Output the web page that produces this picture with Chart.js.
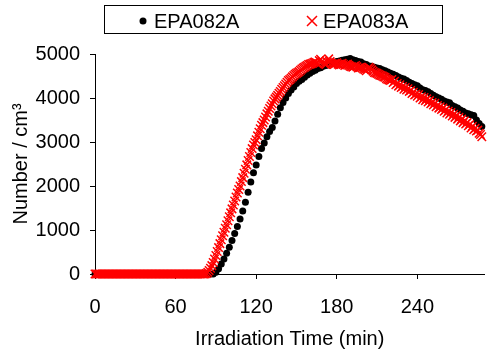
<!DOCTYPE html>
<html>
<head>
<meta charset="utf-8">
<style>
  html, body { margin: 0; padding: 0; background: #fff; }
  canvas { display: block; }
</style>
</head>
<body>
<canvas id="chart" width="492" height="354"></canvas>
<script src="https://cdn.jsdelivr.net/npm/chart.js"></script>
<script>
// EPA082A, sampled every 2 min
var timesA = [0, 2, 4, 6, 8, 10, 12, 14, 16, 18, 20, 22, 24, 26, 28, 30, 32, 34, 36, 38,
	40, 42, 44, 46, 48, 50, 52, 54, 56, 58, 60, 62, 64, 66, 68, 70, 72, 74, 76, 78,
	80, 82, 84, 86, 88, 90, 92, 94, 96, 98, 100, 102, 104, 106, 108, 110, 112, 114, 116, 118,
	120, 122, 124, 126, 128, 130, 132, 134, 136, 138, 140, 142, 144, 146, 148, 150, 152, 154, 156, 158,
	160, 162, 164, 166, 168, 170, 172, 174, 176, 178, 180, 182, 184, 186, 188, 190, 192, 194, 196, 198,
	200, 202, 204, 206, 208, 210, 212, 214, 216, 218, 220, 222, 224, 226, 228, 230, 232, 234, 236, 238,
	240, 242, 244, 246, 248, 250, 252, 254, 256, 258, 260, 262, 264, 266, 268, 270, 272, 274, 276, 278,
	280, 282, 284, 286, 288];
var epa082a = [0, 0, 0, 0, 0, 0, 0, 0, 0, 0, 0, 0, 0, 0, 0, 0, 0, 0, 0, 0,
	0, 0, 0, 0, 0, 0, 0, 0, 0, 0, 0, 0, 0, 0, 0, 0, 0, 0, 0, 0,
	0, 0, 0, 0, 0, 40, 120, 230, 340, 470, 610, 760, 920, 1080, 1250, 1430, 1630, 1860, 2090, 2300,
	2480, 2670, 2850, 2980, 3120, 3240, 3330, 3480, 3630, 3780, 3900, 4000, 4100, 4180, 4250, 4330, 4380, 4420, 4470, 4520,
	4560, 4600, 4630, 4670, 4690, 4720, 4740, 4770, 4790, 4810, 4830, 4840, 4860, 4870, 4880, 4900, 4870, 4850, 4830, 4820,
	4780, 4760, 4730, 4720, 4700, 4680, 4670, 4640, 4620, 4590, 4560, 4540, 4510, 4480, 4450, 4430, 4400, 4360, 4330, 4300,
	4280, 4230, 4190, 4170, 4140, 4100, 4060, 4030, 4000, 3970, 3930, 3910, 3890, 3830, 3800, 3770, 3730, 3700, 3660, 3640,
	3620, 3600, 3500, 3420, 3350];

// EPA083A, sampled every minute
var timesB = [0, 1, 2, 3, 4, 5, 6, 7, 8, 9, 10, 11, 12, 13, 14, 15, 16, 17, 18, 19,
	20, 21, 22, 23, 24, 25, 26, 27, 28, 29, 30, 31, 32, 33, 34, 35, 36, 37, 38, 39,
	40, 41, 42, 43, 44, 45, 46, 47, 48, 49, 50, 51, 52, 53, 54, 55, 56, 57, 58, 59,
	60, 61, 62, 63, 64, 65, 66, 67, 68, 69, 70, 71, 72, 73, 74, 75, 76, 77, 78, 79,
	80, 81, 82, 83, 84, 85, 86, 87, 88, 89, 90, 91, 92, 93, 94, 95, 96, 97, 98, 99,
	100, 101, 102, 103, 104, 105, 106, 107, 108, 109, 110, 111, 112, 113, 114, 115, 116, 117, 118, 119,
	120, 121, 122, 123, 124, 125, 126, 127, 128, 129, 130, 131, 132, 133, 134, 135, 136, 137, 138, 139,
	140, 141, 142, 143, 144, 145, 146, 147, 148, 149, 150, 151, 152, 153, 154, 155, 156, 157, 158, 159,
	160, 161, 162, 163, 164, 165, 166, 167, 168, 169, 170, 171, 172, 173, 174, 175, 176, 177, 178, 179,
	180, 181, 182, 183, 184, 185, 186, 187, 188, 189, 190, 191, 192, 193, 194, 195, 196, 197, 198, 199,
	200, 201, 202, 203, 204, 205, 206, 207, 208, 209, 210, 211, 212, 213, 214, 215, 216, 217, 218, 219,
	220, 221, 222, 223, 224, 225, 226, 227, 228, 229, 230, 231, 232, 233, 234, 235, 236, 237, 238, 239,
	240, 241, 242, 243, 244, 245, 246, 247, 248, 249, 250, 251, 252, 253, 254, 255, 256, 257, 258, 259,
	260, 261, 262, 263, 264, 265, 266, 267, 268, 269, 270, 271, 272, 273, 274, 275, 276, 277, 278, 279,
	280, 281, 282, 283, 284, 285, 286, 287, 288];
var epa083a = [0, 0, 0, 0, 0, 0, 0, 0, 0, 0, 0, 0, 0, 0, 0, 0, 0, 0, 0, 0,
	0, 0, 0, 0, 0, 0, 0, 0, 0, 0, 0, 0, 0, 0, 0, 0, 0, 0, 0, 0,
	0, 0, 0, 0, 0, 0, 0, 0, 0, 0, 0, 0, 0, 0, 0, 0, 0, 0, 0, 0,
	0, 0, 0, 0, 0, 0, 0, 0, 0, 0, 0, 0, 0, 0, 0, 0, 0, 0, 0, 0,
	0, 0, 0, 10, 40, 80, 130, 190, 260, 340, 420, 510, 600, 690, 780, 870, 950, 1040, 1120, 1210,
	1300, 1390, 1480, 1570, 1660, 1750, 1840, 1920, 2000, 2100, 2190, 2290, 2380, 2480, 2580, 2670, 2760, 2850, 2930, 2990,
	3050, 3140, 3220, 3300, 3380, 3440, 3500, 3570, 3640, 3700, 3760, 3820, 3870, 3930, 3980, 4020, 4060, 4110, 4150, 4200,
	4240, 4280, 4320, 4360, 4400, 4420, 4450, 4480, 4510, 4540, 4560, 4580, 4600, 4630, 4660, 4680, 4700, 4720, 4740, 4760,
	4770, 4780, 4790, 4810, 4820, 4800, 4780, 4850, 4880, 4830, 4800, 4780, 4760, 4820, 4890, 4830, 4790, 4770, 4760, 4780,
	4800, 4770, 4750, 4770, 4790, 4760, 4740, 4760, 4770, 4740, 4720, 4710, 4700, 4720, 4740, 4710, 4680, 4690, 4700, 4680,
	4660, 4640, 4620, 4660, 4700, 4670, 4640, 4610, 4580, 4570, 4560, 4540, 4520, 4510, 4500, 4480, 4470, 4440, 4420, 4410,
	4400, 4420, 4350, 4380, 4300, 4330, 4270, 4300, 4240, 4260, 4200, 4240, 4180, 4210, 4150, 4170, 4100, 4130, 4070, 4090,
	4040, 4080, 4000, 4030, 3960, 4010, 3940, 3980, 3910, 3940, 3870, 3900, 3840, 3880, 3800, 3830, 3770, 3800, 3740, 3770,
	3700, 3730, 3660, 3700, 3630, 3670, 3590, 3630, 3560, 3600, 3520, 3560, 3480, 3520, 3440, 3480, 3410, 3440, 3370, 3400,
	3320, 3360, 3280, 3310, 3250, 3270, 3200, 3170, 3120];

var xTicks = [0, 60, 120, 180, 240];
var yTicks = [0, 1000, 2000, 3000, 4000, 5000];

function toPoints(xs, ys) {
	return xs.map(function(x, i) { return {x: x, y: ys[i]}; });
}

// legend drawn inside a framed box, like the original
var boxLegend = {
	id: 'boxLegend',
	afterDraw: function(chart) {
		var ctx = chart.ctx;
		var itemX = [143, 312];
		var cy = 21;
		ctx.save();
		ctx.strokeStyle = '#000';
		ctx.lineWidth = 1;
		ctx.strokeRect(104.5, 5.5, 338, 28);
		ctx.font = '20px Arial, "Liberation Sans", sans-serif';
		ctx.textBaseline = 'middle';
		chart.data.datasets.forEach(function(ds, i) {
			var x = itemX[i];
			if (ds.pointStyle === 'circle') {
				ctx.beginPath();
				ctx.arc(x, cy, 3.5, 0, Math.PI * 2);
				ctx.fillStyle = ds.backgroundColor;
				ctx.fill();
			} else {
				ctx.beginPath();
				ctx.moveTo(x - 5, cy - 5);
				ctx.lineTo(x + 5, cy + 5);
				ctx.moveTo(x + 5, cy - 5);
				ctx.lineTo(x - 5, cy + 5);
				ctx.strokeStyle = ds.borderColor;
				ctx.lineWidth = 1.5;
				ctx.stroke();
			}
			ctx.fillStyle = '#000';
			ctx.fillText(ds.label, x + 11, cy + 1);
		});
		ctx.restore();
	}
};

Chart.defaults.font.family = 'Arial, "Liberation Sans", sans-serif';
Chart.defaults.font.size = 20;
Chart.defaults.color = '#000';

var ctx = document.getElementById('chart').getContext('2d');
var chart = new Chart(ctx, {
	type: 'scatter',
	data: {
		datasets: [{
			label: 'EPA082A',
			data: toPoints(timesA, epa082a),
			pointStyle: 'circle',
			pointRadius: 3.5,
			backgroundColor: '#000',
			borderColor: '#000',
			borderWidth: 0,
			clip: false,
			order: 2
		},
		{
			label: 'EPA083A',
			data: toPoints(timesB, epa083a),
			pointStyle: 'crossRot',
			pointRadius: 6,
			backgroundColor: '#ff0000',
			borderColor: '#ff0000',
			borderWidth: 1.5,
			clip: false,
			order: 1
		}]
	},
	options: {
		responsive: false,
		animation: false,
		layout: {padding: {top: 54, right: 0, left: 0, bottom: 0}},
		plugins: {
			legend: {display: false},
			tooltip: {enabled: false}
		},
		scales: {
			x: {
				type: 'linear',
				min: 0,
				max: 290,
				afterBuildTicks: function(scale) {
					scale.ticks = xTicks.map(function(v) { return {value: v}; });
				},
				afterFit: function(scale) { scale.height = 80; },
				grid: {drawOnChartArea: false, tickLength: 5, color: '#000'},
				border: {color: '#000'},
				ticks: {padding: 16, maxRotation: 0, callback: function(v) { return String(v); }},
				title: {display: true, text: 'Irradiation Time (min)', padding: {top: 0, bottom: 3}}
			},
			y: {
				min: 0,
				max: 5000,
				afterBuildTicks: function(scale) {
					scale.ticks = yTicks.map(function(v) { return {value: v}; });
				},
				afterFit: function(scale) { scale.width = 95; },
				grid: {drawOnChartArea: false, tickLength: 5, color: '#000'},
				border: {color: '#000'},
				ticks: {padding: 10, callback: function(v) { return String(v); }},
				title: {display: true, text: 'Number / cm³', padding: {top: 9, bottom: 0}}
			}
		}
	},
	plugins: [boxLegend]
});
</script>
</body>
</html>
